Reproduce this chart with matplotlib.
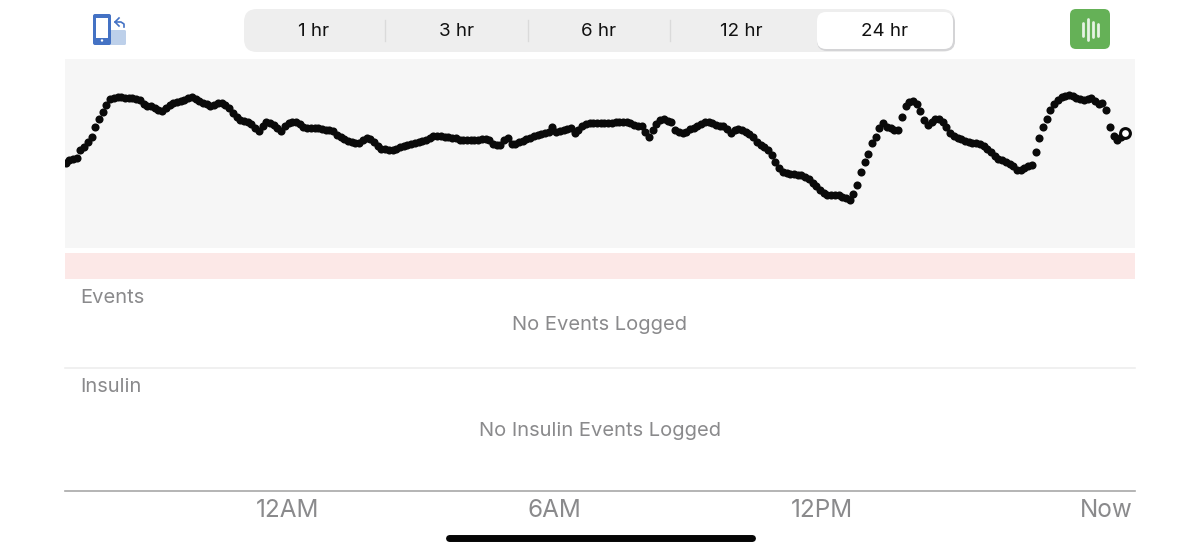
import matplotlib
matplotlib.use('Agg')
import matplotlib.pyplot as plt
from matplotlib.patches import FancyBboxPatch, Rectangle, Circle
import numpy as np

plt.rcParams['font.family'] = ['Inter', 'DejaVu Sans']

# Glucose readings, one every 5 minutes (estimated, the chart has no y scale)
glucose = [
    210, 216, 219, 220, 236, 242, 252, 262, 282, 298, 312, 326,
    338, 341, 342, 342, 341, 340, 340, 339, 336, 328, 324, 324,
    320, 316, 314, 320, 326, 330, 332, 334, 336, 340, 342, 338,
    334, 330, 328, 324, 326, 330, 330, 326, 320, 310, 302, 296,
    294, 292, 288, 280, 274, 284, 292, 290, 286, 280, 274, 284,
    290, 292, 292, 288, 282, 280, 280, 280, 280, 278, 276, 276,
    274, 266, 262, 258, 254, 252, 250, 250, 256, 260, 258, 252,
    244, 238, 238, 236, 236, 238, 242, 244, 246, 248, 250, 252,
    254, 256, 260, 264, 264, 264, 262, 262, 260, 260, 256, 256,
    256, 256, 256, 256, 258, 258, 256, 248, 246, 246, 256, 260,
    248, 248, 252, 254, 258, 260, 264, 266, 268, 270, 272, 282,
    272, 274, 276, 278, 280, 270, 276, 284, 288, 290, 290, 290,
    290, 290, 290, 290, 292, 292, 292, 292, 290, 286, 284, 284,
    272, 262, 276, 288, 296, 298, 294, 292, 276, 272, 270, 272,
    278, 280, 284, 288, 292, 292, 290, 286, 284, 284, 278, 270,
    276, 278, 276, 272, 268, 262, 252, 246, 242, 236, 226, 212,
    200, 192, 190, 188, 188, 186, 186, 182, 178, 170, 164, 156,
    150, 146, 146, 146, 146, 142, 140, 136, 148, 166, 192, 212,
    228, 250, 262, 280, 290, 282, 280, 276, 276, 302, 324, 332,
    334, 328, 314, 296, 286, 292, 298, 298, 292, 282, 270, 264,
    260, 258, 254, 252, 250, 250, 248, 244, 238, 232, 224, 218,
    216, 212, 208, 204, 196, 196, 200, 204, 206, 232, 260, 282,
    298, 316, 328, 336, 342, 344, 346, 344, 340, 338, 336, 338,
    340, 334, 328, 330, 316, 282, 264, 256, 262, 270,
]
range_labels = ['1 hr', '3 hr', '6 hr', '12 hr', '24 hr']
tick_hours = [0, 6, 12, 18.36]
tick_labels = ['12AM', '6AM', '12PM', 'Now']

W, H = 1200, 554
fig = plt.figure(figsize=(12, 5.54), dpi=100, facecolor='white')


def px_axes(left, top, right, bottom):
    return fig.add_axes([left / W, 1 - bottom / H, (right - left) / W, (bottom - top) / H])


hours = -4.966 + np.arange(len(glucose)) / 12
xlim = (-4.978, 19.013)

# glucose trace
ax = px_axes(65, 59, 1135, 248)
ax.set_facecolor('#f6f6f6')
ax.set_xlim(xlim)
ax.set_ylim(40, 418)
ax.set_xticks([])
ax.set_yticks([])
for s in ax.spines.values():
    s.set_visible(False)
ax.scatter(hours[:-1], glucose[:-1], s=34, color='#0a0a0a', linewidths=0, zorder=3)
ax.scatter(hours[-1:], glucose[-1:], s=50, facecolor='white', edgecolor='#0a0a0a', linewidths=2.2, zorder=4)

# time axis
tx = px_axes(65, 491, 1135, 492)
tx.set_xlim(xlim)
tx.set_yticks([])
tx.set_xticks(tick_hours)
tx.set_xticklabels(tick_labels, fontsize=17.5, color='#8a8a8c')
tx.tick_params(axis='x', length=0, pad=5)
for name, s in tx.spines.items():
    s.set_visible(name == 'top')
tx.spines['top'].set_color('#a8a8a8')
tx.spines['top'].set_linewidth(1.2)

# everything around the chart, in screen pixels
ui = fig.add_axes([0, 0, 1, 1], zorder=-1)
ui.set_xlim(0, W)
ui.set_ylim(H, 0)
ui.axis('off')

ui.add_patch(Rectangle((65, 253), 1070, 26, color='#fce8e7', lw=0))
ui.plot([65, 1135], [368, 368], color='#eeeeee', lw=1.2)

ui.text(80, 298, 'Events', fontsize=14.5, color='#8a8a8c', va='center')
ui.text(80, 387, 'Insulin', fontsize=14.5, color='#8a8a8c', va='center')
ui.text(600, 325, 'No Events Logged', fontsize=14.5, color='#8a8a8c', ha='center', va='center')
ui.text(600, 431, 'No Insulin Events Logged', fontsize=14.5, color='#8a8a8c', ha='center', va='center')

# range selector
ui.add_patch(FancyBboxPatch((244, 9), 711, 43, boxstyle='round,pad=0,rounding_size=13',
                            fc='#eeeeee', ec='none'))
ui.add_patch(FancyBboxPatch((817, 13), 138, 38, boxstyle='round,pad=0,rounding_size=10',
                            fc='#d4d4d6', ec='none'))
ui.add_patch(FancyBboxPatch((817, 12), 136, 37, boxstyle='round,pad=0,rounding_size=9',
                            fc='white', ec='none'))
for x in [385, 528, 670]:
    ui.plot([x, x], [20, 41], color='#dadada', lw=1)
for x, lab in zip([314, 457, 599, 741, 885], range_labels):
    ui.text(x, 31, lab, fontsize=13.5, color='#111111', ha='center', va='center')

# rotate icon
ui.add_patch(FancyBboxPatch((101, 30), 25, 15, boxstyle='round,pad=0,rounding_size=1.5',
                            fc='#bdd0ea', ec='none'))
ui.add_patch(FancyBboxPatch((93, 14), 18, 31, boxstyle='round,pad=0,rounding_size=2',
                            fc='#4472c4', ec='none'))
ui.add_patch(Rectangle((96, 18), 12, 20, fc='white', ec='none'))
ui.add_patch(Circle((102, 40.5), 1.2, fc='white', ec='none'))
ui.plot([119, 115, 119], [18, 22, 26], color='#4472c4', lw=1.2)
ui.plot([115, 121, 124, 124], [22, 22, 24, 27], color='#4472c4', lw=1.2)

# green icon
ui.add_patch(FancyBboxPatch((1070, 9), 40, 40, boxstyle='round,pad=0,rounding_size=6',
                            fc='#65b157', ec='none'))
for x, half in zip([1082.7, 1088, 1093, 1098], [6.5, 10.5, 7.5, 6]):
    ui.plot([x, x], [29.5 - half, 29.5 + half], color='#e6f3e3', lw=2, solid_capstyle='round')

# home indicator
ui.plot([449, 752], [538, 538], color='#050505', lw=5, solid_capstyle='round')

fig.savefig('out.png', dpi=100)
